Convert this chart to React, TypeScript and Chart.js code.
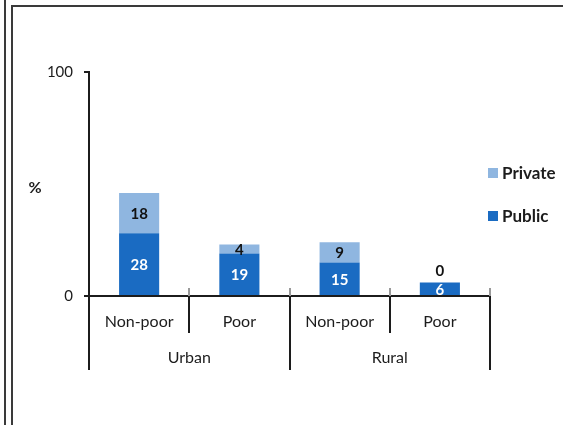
import React, { useEffect, useRef } from "react";
import { Chart, registerables } from "chart.js";

Chart.register(...registerables);

// Categories: poverty status within each area
const categories = ["Non-poor", "Poor", "Non-poor", "Poor"];
const groups = ["Urban", "Rural"];
const groupSizes = [2, 2];

// Share of households (%) by provider
const publicValues = [28, 19, 15, 6];
const privateValues = [18, 4, 9, 0];

const yTicks = [0, 100];

const PUBLIC_COLOR = "#1a6bc2";
const PRIVATE_COLOR = "#8fb6e0";
const FONT = "Lato, 'Open Sans', sans-serif";
const INK = "#1c1c1c";

const decorPlugin = {
  id: "decor",
  beforeDraw(chart: any) {
    const { ctx, width, height } = chart;
    ctx.save();
    ctx.fillStyle = "#ffffff";
    ctx.fillRect(0, 0, width, height);
    ctx.restore();
  },
  afterDraw(chart: any) {
    const { ctx, chartArea, width, height } = chart;
    const xs = chart.scales.x;
    const n = categories.length;
    const px = (i: number) => xs.getPixelForValue(i);
    const step = px(1) - px(0);
    const boundary = (i: number) => px(0) - step / 2 + step * i;
    const axisY = chartArea.bottom;
    ctx.save();

    // page frame: double rule on the left, single rule along the top
    ctx.fillStyle = "#3a3a3a";
    ctx.fillRect(4, 0, 2, height);
    ctx.fillRect(11, 5, 2, height - 5);
    ctx.fillRect(11, 5, width - 11, 2);

    // small tick marks above the axis at category boundaries
    ctx.strokeStyle = "#9a9a9a";
    ctx.lineWidth = 2;
    for (let i = 1; i <= n; i++) {
      const bx = Math.round(boundary(i));
      ctx.beginPath();
      ctx.moveTo(bx, axisY - 8);
      ctx.lineTo(bx, axisY);
      ctx.stroke();
    }

    // separators below the axis: short inside a group, long between groups
    const groupEdges = new Set<number>([0]);
    let acc = 0;
    groupSizes.forEach((s) => {
      acc += s;
      groupEdges.add(acc);
    });
    ctx.strokeStyle = INK;
    for (let i = 0; i <= n; i++) {
      const bx = Math.round(boundary(i));
      const len = groupEdges.has(i) ? 74 : 37;
      ctx.beginPath();
      ctx.moveTo(bx, axisY);
      ctx.lineTo(bx, axisY + len);
      ctx.stroke();
    }

    // group labels
    ctx.fillStyle = INK;
    ctx.font = `16px ${FONT}`;
    ctx.textAlign = "center";
    ctx.textBaseline = "middle";
    let start = 0;
    groups.forEach((g, gi) => {
      const end = start + groupSizes[gi];
      const cx = (boundary(start) + boundary(end)) / 2;
      ctx.fillText(g, cx, axisY + 62);
      start = end;
    });

    // "%" axis title
    ctx.font = `bold 16px ${FONT}`;
    ctx.fillText("%", 35, 188);

    // value labels
    ctx.font = `bold 15px ${FONT}`;
    chart.data.datasets.forEach((ds: any, di: number) => {
      const meta = chart.getDatasetMeta(di);
      meta.data.forEach((bar: any, i: number) => {
        const v = ds.data[i];
        const mid = (bar.y + bar.base) / 2;
        const y = v === 0 ? bar.y - 12 : mid;
        ctx.fillStyle = ds.labelColor;
        ctx.fillText(String(v), bar.x, y + 1);
      });
    });

    // legend (Private above Public)
    ctx.textAlign = "left";
    ctx.font = `bold 17px ${FONT}`;
    const order = [1, 0];
    const legendY = [173, 216];
    order.forEach((di, k) => {
      const ds = chart.data.datasets[di];
      ctx.fillStyle = ds.backgroundColor;
      ctx.fillRect(488, legendY[k] - 5, 10, 10);
      ctx.fillStyle = INK;
      ctx.fillText(ds.label, 502, legendY[k] + 1);
    });

    ctx.restore();
  },
};

export default function App() {
  const canvasRef = useRef<HTMLCanvasElement | null>(null);

  useEffect(() => {
    if (!canvasRef.current) return;
    const chart = new Chart(canvasRef.current, {
      type: "bar",
      data: {
        labels: categories,
        datasets: [
          {
            label: "Public",
            data: publicValues,
            backgroundColor: PUBLIC_COLOR,
            categoryPercentage: 0.8,
            barPercentage: 0.5,
            labelColor: "#ffffff",
          } as any,
          {
            label: "Private",
            data: privateValues,
            backgroundColor: PRIVATE_COLOR,
            categoryPercentage: 0.8,
            barPercentage: 0.5,
            labelColor: "#111111",
          } as any,
        ],
      },
      options: {
        responsive: false,
        animation: false,
        devicePixelRatio: 1,
        layout: { padding: { left: 0, top: 72, right: 73, bottom: 0 } },
        plugins: {
          legend: { display: false },
          tooltip: { enabled: false },
        },
        scales: {
          x: {
            stacked: true,
            grid: { display: false, drawTicks: false },
            border: { display: true, color: INK, width: 2 },
            ticks: {
              color: INK,
              font: { family: FONT, size: 16 },
              padding: 16,
              maxRotation: 0,
            },
            afterFit: (s: any) => {
              s.height = 129;
            },
          },
          y: {
            stacked: true,
            min: 0,
            max: 100,
            afterBuildTicks: (s: any) => {
              s.ticks = yTicks.map((v) => ({ value: v }));
            },
            grid: {
              display: true,
              drawOnChartArea: false,
              drawTicks: true,
              tickLength: 5,
              color: INK,
              lineWidth: 2,
            },
            border: { display: true, color: INK, width: 2 },
            ticks: {
              color: INK,
              font: { family: FONT, size: 15 },
              padding: 11,
            },
            afterFit: (s: any) => {
              s.width = 89;
            },
          },
        },
      },
      plugins: [decorPlugin],
    });
    return () => chart.destroy();
  }, []);

  return (
    <div style={{ position: "fixed", left: 0, top: 0, width: 563, height: 425 }}>
      <canvas ref={canvasRef} width={563} height={425} />
    </div>
  );
}
